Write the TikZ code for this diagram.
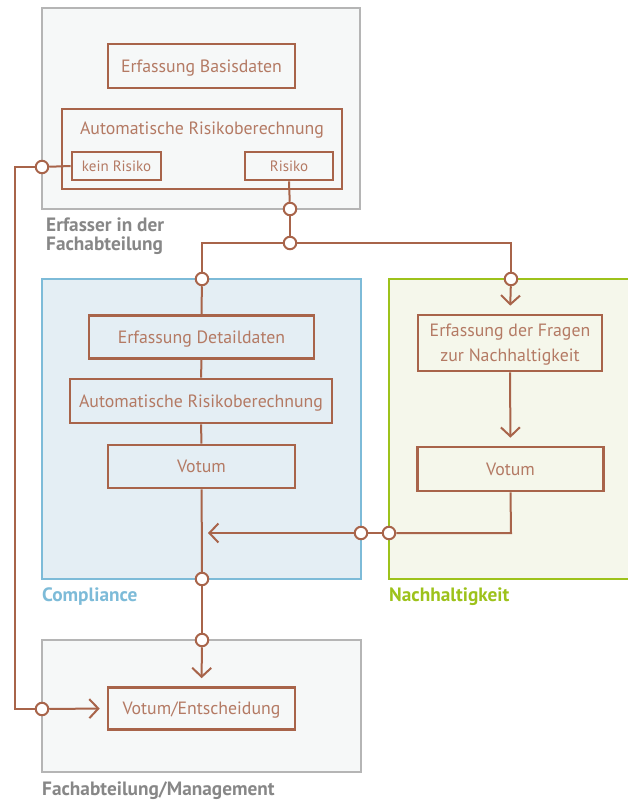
\documentclass[tikz,border=0pt]{standalone}
\usepackage{fontspec}
\setmainfont{PT Sans}
\usetikzlibrary{arrows.meta}
\definecolor{ln}{HTML}{A8644A}
\definecolor{tx}{HTML}{B47A64}
\definecolor{gb}{HTML}{B5B5B5}
\definecolor{gf}{HTML}{F6F8F8}
\definecolor{bb}{HTML}{7DBBD8}
\definecolor{bf}{HTML}{E4EEF4}
\definecolor{nb}{HTML}{9DC21B}
\definecolor{nf}{HTML}{F5F7EB}
\definecolor{lg}{HTML}{878787}
\tikzset{
  container/.style={draw=#1, line width=2.4pt, inner sep=0pt},
  procbox/.style={draw=ln, line width=2.6pt, text=tx, inner sep=0pt, text depth=0pt, font=\fontsize{17.8}{25}\selectfont, align=center},
  smallbox/.style={procbox, font=\fontsize{15}{18}\selectfont},
  dot/.style={circle, draw=ln, fill=white, line width=2pt, minimum size=12.5pt, inner sep=0pt},
  conn/.style={draw=ln, line width=2pt},
  arr/.style={conn, -{Straight Barb[length=9pt,width=19pt,line width=2pt]}},
  grouplabel/.style={anchor=base west, inner sep=0pt, font=\bfseries\fontsize{19.3}{19.5}\selectfont, align=left},
}
\begin{document}
\begin{tikzpicture}[x=1pt,y=-1pt]
\useasboundingbox (0,0) rectangle (628,802);
\clip (0,0) rectangle (628,802);
% containers
\node[container=gb, fill=gf, minimum width=318pt, minimum height=201pt] (erf) at (201,108.5) {};
\node[container=bb, fill=bf, minimum width=319pt, minimum height=300pt] (comp) at (201.5,429) {};
\node[container=nb, fill=nf, minimum width=251pt, minimum height=300pt] (nach) at (514.5,429) {};
\node[container=gb, fill=gf, minimum width=319pt, minimum height=132pt] (fach) at (201.5,706) {};
% group labels
\node[grouplabel, text=lg] (lerf) at (46,251) {Erfasser in der\\Fachabteilung};
\node[grouplabel, text=bb] (lcomp) at (42,601) {Compliance};
\node[grouplabel, text=nb] (lnach) at (389,601) {Nachhaltigkeit};
\node[grouplabel, text=lg] (lfach) at (42,795) {Fachabteilung/Management};
% process boxes
\node[procbox, minimum width=187pt, minimum height=44pt] (basis) at (201.5,66) {Erfassung Basisdaten};
\node[procbox, minimum width=280pt, minimum height=80pt] (auto1) at (202,149) {};
\node[text=tx, font=\fontsize{17.8}{25}\selectfont, inner sep=0pt, text depth=0pt] (auto1t) at (202,128) {Automatische Risikoberechnung};
\node[smallbox, minimum width=89pt, minimum height=28pt] (kein) at (116.5,166) {kein Risiko};
\node[smallbox, minimum width=88pt, minimum height=28pt] (risiko) at (289,166) {Risiko};
\node[procbox, minimum width=225pt, minimum height=43pt] (detail) at (201.5,337) {Erfassung Detaildaten};
\node[procbox, minimum width=262pt, minimum height=44pt] (auto2) at (201,401) {Automatische Risikoberechnung};
\node[procbox, minimum width=187pt, minimum height=43pt] (votc) at (201.5,466.5) {Votum};
\node[procbox, minimum width=184pt, minimum height=56pt] (fragen) at (510,343) {Erfassung der Fragen\\zur Nachhaltigkeit};
\node[procbox, minimum width=186pt, minimum height=44pt] (votn) at (510.5,469) {Votum};
\node[procbox, minimum width=187pt, minimum height=42pt] (final) at (201.5,708.5) {Votum/Entscheidung};
% connector dots
\node[dot] (ck) at (42,167) {};
\node[dot] (cr1) at (290,209) {};
\node[dot] (cr2) at (290,243) {};
\node[dot] (cc1) at (202,279) {};
\node[dot] (cn1) at (511,279) {};
\node[dot] (cn2) at (389,533) {};
\node[dot] (cc2) at (361,533) {};
\node[dot] (cc3) at (202,579) {};
\node[dot] (cf1) at (202,640) {};
\node[dot] (cf2) at (42,709) {};
% helper coordinates
\coordinate (lt) at (15,167);
\coordinate (lb) at (15,709);
\coordinate (jl) at (202,243);
\coordinate (jr) at (511,243);
\coordinate (nc) at (511,533);
\coordinate (ct) at (208,533);
% connectors
\draw[conn] (kein.west) -- (ck);
\draw[conn] (ck) -- (lt) -- (lb) -- (cf2);
\draw[arr, shorten >=7pt] (cf2) -- (final.west);
\draw[conn] (risiko.south) -- (cr1);
\draw[conn] (cr1) -- (cr2);
\draw[conn] (cr2) -- (jl) -- (cc1);
\draw[conn] (cr2) -- (jr) -- (cn1);
\draw[conn] (cc1) -- (detail.north);
\draw[arr, shorten >=8pt] (cn1) -- (fragen.north);
\draw[conn] (detail) -- (auto2);
\draw[conn] (auto2) -- (votc);
\draw[conn] (votc) -- (cc3);
\draw[conn] (cc3) -- (cf1);
\draw[arr, shorten >=8pt] (cf1) -- (final.north);
\draw[arr, shorten >=8pt] (fragen.south) -- (votn.north);
\draw[conn] (votn.south) -- (nc) -- (cn2);
\draw[conn] (cn2) -- (cc2);
\draw[arr] (cc2) -- (ct);
\end{tikzpicture}
\end{document}
